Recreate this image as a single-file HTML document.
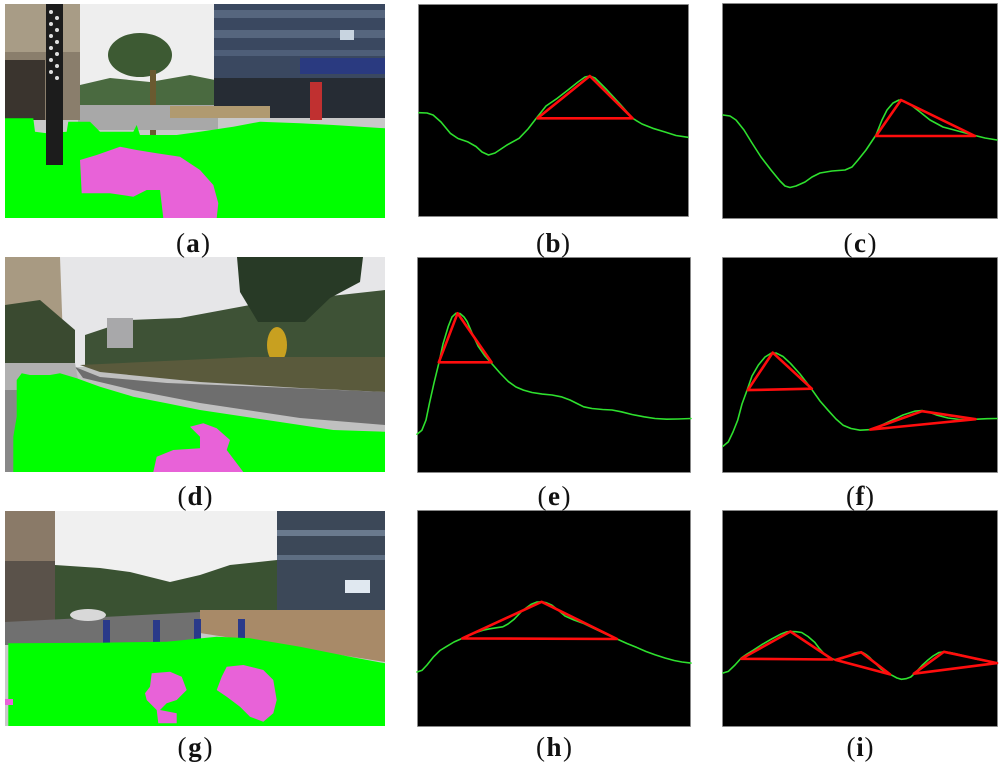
<!DOCTYPE html>
<html><head><meta charset="utf-8"><style>
html,body{margin:0;padding:0;background:#fff;}
svg{display:block;}
</style></head><body>
<svg width="1000" height="765" viewBox="0 0 1000 765" xmlns="http://www.w3.org/2000/svg">
<rect width="1000" height="765" fill="#fff"/>
<defs>
<clipPath id="ca"><rect x="5" y="4" width="380" height="214"/></clipPath>
<clipPath id="cd"><rect x="5" y="257" width="380" height="215"/></clipPath>
<clipPath id="cg"><rect x="5" y="511" width="380" height="215"/></clipPath>
</defs>

<!-- Photo a -->
<g clip-path="url(#ca)">
<rect x="5" y="4" width="380" height="214" fill="#c8c8c8"/>
<rect x="78" y="4" width="137" height="110" fill="#eeeeee"/>
<polygon points="80,85 110,78 150,82 190,75 215,80 215,112 80,112" fill="#4a6a40"/>
<ellipse cx="140" cy="55" rx="32" ry="22" fill="#3d5a33"/>
<rect x="150" y="70" width="6" height="65" fill="#6a5a30"/>
<rect x="78" y="105" width="140" height="25" fill="#a8a8a8"/>
<rect x="5" y="4" width="75" height="116" fill="#8a7e6c"/>
<rect x="5" y="4" width="75" height="48" fill="#a89c86"/>
<rect x="5" y="60" width="40" height="60" fill="#3a342e"/>
<rect x="214" y="4" width="171" height="114" fill="#3a4860"/>
<rect x="214" y="10" width="171" height="8" fill="#56667e"/>
<rect x="214" y="30" width="171" height="8" fill="#56667e"/>
<rect x="214" y="50" width="171" height="6" fill="#4e5e78"/>
<rect x="300" y="58" width="85" height="16" fill="#2a3a80"/>
<rect x="214" y="78" width="171" height="40" fill="#262c34"/>
<rect x="340" y="30" width="14" height="10" fill="#c8d4e0"/>
<rect x="170" y="106" width="100" height="12" fill="#b09a70"/>
<rect x="310" y="82" width="12" height="38" fill="#c03030"/>
<polygon points="5,118.3 33.3,118.3 35,131.7 46.7,133.3 66.7,131.7 68.3,121.7 90,121.7 100,131.7 133.3,131.7 136.7,125 140,135 176.7,135 200,131.7 233.3,126.7 260,121.7 300,123.3 333.3,125 385,128.3 385,218 5,218" fill="#00ff00"/>
<polygon points="80,160 96.7,155 120,146.7 136.7,150 156.7,153.3 180,156.7 200,170 213.3,185 218.3,203.3 216.7,218 163.3,218 160,190 146.7,190 133.3,196.7 110,193.3 81.7,193.3" fill="#e862d8"/>
<rect x="46" y="4" width="17" height="161" fill="#1c1c1c"/>
<g fill="#e0e0e0"><circle cx="51" cy="12" r="2"/><circle cx="57" cy="18" r="2"/><circle cx="51" cy="24" r="2"/><circle cx="57" cy="30" r="2"/><circle cx="51" cy="36" r="2"/><circle cx="57" cy="42" r="2"/><circle cx="51" cy="48" r="2"/><circle cx="57" cy="54" r="2"/><circle cx="51" cy="60" r="2"/><circle cx="57" cy="66" r="2"/><circle cx="51" cy="72" r="2"/><circle cx="57" cy="78" r="2"/></g>
</g>

<!-- Photo d -->
<g clip-path="url(#cd)">
<rect x="5" y="257" width="380" height="215" fill="#c0c0c0"/>
<rect x="5" y="257" width="380" height="110" fill="#e6e6e8"/>
<polygon points="85,335 130,320 180,318 250,305 385,290 385,360 85,365" fill="#3e5236"/>
<rect x="107" y="318" width="26" height="30" fill="#a8a8aa"/>
<polygon points="237,257 363,257 360,282 330,298 305,322 258,322 240,292" fill="#283a26"/>
<polygon points="5,257 60,257 63,340 5,345" fill="#a89a82"/>
<polygon points="5,305 40,300 75,330 75,368 5,368" fill="#3a4a30"/>
<ellipse cx="277" cy="345" rx="10" ry="18" fill="#c8a020"/>
<polygon points="80,365 250,357 385,357 385,392 300,388 200,382 100,372" fill="#5a5a3c"/>
<polygon points="75,367 100,377 167,383 267,387 385,392 385,425 300,418 200,403 133,390 83,378" fill="#6e6e6e"/>
<polygon points="5,363 75,363 80,390 5,395" fill="#b0b0b0"/>
<rect x="5" y="390" width="12" height="82" fill="#888888"/>
<polygon points="16.7,380 21.7,373.3 30,375 50,375 60,373.3 76.7,378.3 100,386.7 133.3,396.7 166.7,403.3 200,410 266.7,420 333.3,430 385,431.7 385,472 13.3,472 13.3,436.7 16.7,416.7" fill="#00ff00"/>
<polygon points="190,426.7 203.3,423.3 216.7,428.3 230,440 226.7,450 236.7,463.3 243.3,472 153.3,472 156.7,456.7 173.3,450 200,448.3 200,436.7" fill="#e862d8"/>
</g>

<!-- Photo g -->
<g clip-path="url(#cg)">
<rect x="5" y="511" width="380" height="215" fill="#c8c8c8"/>
<rect x="55" y="511" width="222" height="95" fill="#f0f0f0"/>
<polygon points="55,565 100,568 130,572 170,582 200,575 230,565 277,560 277,612 55,625" fill="#3a5232"/>
<rect x="5" y="511" width="50" height="112" fill="#5a524a"/>
<rect x="5" y="511" width="50" height="50" fill="#8a7a68"/>
<rect x="277" y="511" width="108" height="100" fill="#3c4858"/>
<rect x="277" y="530" width="108" height="6" fill="#6a7a8e"/>
<rect x="277" y="555" width="108" height="5" fill="#5e6e82"/>
<rect x="345" y="580" width="25" height="13" fill="#e0e8f0"/>
<polygon points="200,610 385,610 385,662 200,633" fill="#a88a68"/>
<polygon points="5,622 200,612 200,645 5,645" fill="#707070"/>
<ellipse cx="88" cy="615" rx="18" ry="6" fill="#d8d8d8"/>
<g fill="#2a3a8a"><rect x="103" y="620" width="7" height="24"/><rect x="153" y="620" width="7" height="24"/><rect x="194" y="619" width="7" height="22"/><rect x="238" y="619" width="7" height="20"/></g>
<polygon points="8.3,643.3 100,642.7 166.7,641.7 216.7,636.7 250,638.3 300,646.7 350,656.7 385,663.3 385,726 8.3,726" fill="#00ff00"/>
<polygon points="151.7,673.3 170,671.7 181.7,676.7 186.7,690 176.7,700 166.7,703.3 160,710 176.7,713.3 176.7,723.3 158.3,723.3 156.7,710 146.7,700 145,693.3 150,686.7" fill="#e862d8"/>
<polygon points="226.7,666.7 243.3,665 263.3,670 273.3,680 276.7,700 273.3,713.3 263.3,721.7 250,716.7 240,706.7 226.7,696.7 216.7,690 221.7,676.7" fill="#e862d8"/>
<rect x="5" y="699" width="8" height="6" fill="#e862d8"/>
</g>

<!-- Panels -->
<g fill="#000" stroke="#8a8a8a" stroke-width="0.8">
<rect x="418.5" y="4.5" width="270" height="212"/>
<rect x="722.5" y="3.5" width="275" height="215"/>
<rect x="417.5" y="257.5" width="273" height="215"/>
<rect x="722.5" y="257.5" width="275" height="215"/>
<rect x="417.5" y="510.5" width="273" height="216"/>
<rect x="722.5" y="510.5" width="275" height="216"/>
</g>

<g fill="none" stroke="#2ee02e" stroke-width="1.6" stroke-linejoin="round" stroke-linecap="round">
<polyline points="419,112.7 427,113 433.1,115 441,122 450.3,133.3 458,138.5 467.5,141.7 476,146.5 482,152 488.5,155 495,153 507,145 519.1,138.3 528,129 536.3,118.3 546,106 557.3,98.3 568,90 578,82 585,77 589.8,76 595,78 601,84 607,90 620,104 632.6,118.3 642,124 652.8,128.3 665,132 676,135.5 688,137.3"/>
<polyline points="723,115 730,116 736,120 744,130 752,143 761,157 771,170 780,181 785,186 790,187.5 796,186 805,182 812,177 820,173 832,171 845,170 852,167 858,160 866,150 876,135 882,120 887,110 893,103 899,100 904,101 911,105 920,112 930,120 943,127 958,131 973,135 985,138 997,140"/>
<polyline points="417,434.2 421.9,430.2 426,420 429.4,403.5 434,383 438.8,363.3 443,344 448.2,326.6 452,317 456,313.2 460,313.5 464,317 467.1,321.5 472,333 478.4,346.6 485,356 491.5,363.3 500,373 508.5,381.7 516,387 523.5,390.1 532,392.5 542.3,394.1 552,395 561.2,396.8 570,400 578,404 583.7,406.8 592,408.5 602.6,409.5 612,410 621.4,411.8 632,414.5 644,416.8 655,418.5 666.6,419.2 678,419 691,418.5"/>
<polyline points="723,446.3 728.3,441.9 733,432 737.7,420.2 742,404 747.1,390.1 752,376 758.4,365 765,357 771,353.3 776,353 783,356.5 790.4,363.3 800,374 811.1,388.4 820,401 828,410.2 836,419 843.1,425.2 851,428.5 860,430.2 871.3,429.6 882,425 892,420.2 903,415 914.6,411.2 922,410.5 930,412.5 937.2,415.2 948,418 959.8,419.5 970,419.6 976.7,419.2 987,418.7 997,418.5"/>
<polyline points="417,672 421.9,670.4 427,665 433.2,657.2 440,650.5 446.4,646.6 454,642 462.2,638.4 470,635 476.5,632.4 483,630.2 489.7,628.8 496,627.8 502.8,626.8 508,624 514.1,619.2 522,611 531,604.4 537,602 541.6,601.8 546,602.6 551.8,605.1 558,610 565,616 574,620 583.8,623.5 591,627 598.9,630.8 608,635 617,639 627,643.5 636.4,647.3 646,651.5 655.3,654.9 665,658 674.1,660.5 682,662 691,663.1"/>
<polyline points="723,673 728.3,671.4 735,665 741.4,657.9 747,654 752.7,650.6 762,644.5 771.6,639 781,634 787,631.8 790.4,631.5 796,631.7 801.7,632.5 808,636.5 814.8,642.4 819,648 824.3,653.9 830,658 835.5,659.9 842,658.5 848.7,655.6 855,653 859,652.2 863,652.7 866,654.5 869.4,657.2 875,663 880.7,668.7 886,672.5 892,675.3 897,678 901.4,679.3 906,678.7 910.8,677 916,672 922.1,665.4 928,660 933.4,655.8 939,652.5 943.9,651.8 950,652.5 956,653.8 965,656 974.8,658.8 986,661 997,663.1"/>
</g>

<g fill="none" stroke="#ff0d0d" stroke-width="2.6" stroke-linejoin="round">
<polygon points="537.5,118.3 589.8,76 632.6,118.3"/>
<polygon points="876,136 901,100 975,136"/>
<polygon points="438.8,362.3 457.6,313.2 491.5,362.3"/>
<polygon points="747.8,390.1 772.7,352.6 811.8,388.7"/>
<polygon points="870.2,429.6 922.1,411.2 975.6,419.2"/>
<polygon points="462.2,638.4 541.6,601.8 617,639"/>
<polygon points="741.4,658.8 790.4,631.5 832.5,659.5"/>
<polygon points="835.5,659.9 861.1,652.2 890.1,674.4"/>
<polygon points="913.8,673.7 943.9,651.8 997,663.1"/>
</g>

<g font-family="'Liberation Serif', serif" font-size="27" fill="#111" text-anchor="middle">
<text x="193" y="252" textLength="34" lengthAdjust="spacing">(<tspan font-weight="bold">a</tspan>)</text>
<text x="553" y="252" textLength="34" lengthAdjust="spacing">(<tspan font-weight="bold">b</tspan>)</text>
<text x="860" y="252" textLength="33" lengthAdjust="spacing">(<tspan font-weight="bold">c</tspan>)</text>
<text x="195" y="505" textLength="35" lengthAdjust="spacing">(<tspan font-weight="bold">d</tspan>)</text>
<text x="554" y="505" textLength="33" lengthAdjust="spacing">(<tspan font-weight="bold">e</tspan>)</text>
<text x="860" y="505" textLength="28" lengthAdjust="spacing">(<tspan font-weight="bold">f</tspan>)</text>
<text x="195" y="756" textLength="35" lengthAdjust="spacing">(<tspan font-weight="bold">g</tspan>)</text>
<text x="554" y="756" textLength="36" lengthAdjust="spacing">(<tspan font-weight="bold">h</tspan>)</text>
<text x="860" y="756" textLength="27" lengthAdjust="spacing">(<tspan font-weight="bold">i</tspan>)</text>
</g>
</svg>
</body></html>
